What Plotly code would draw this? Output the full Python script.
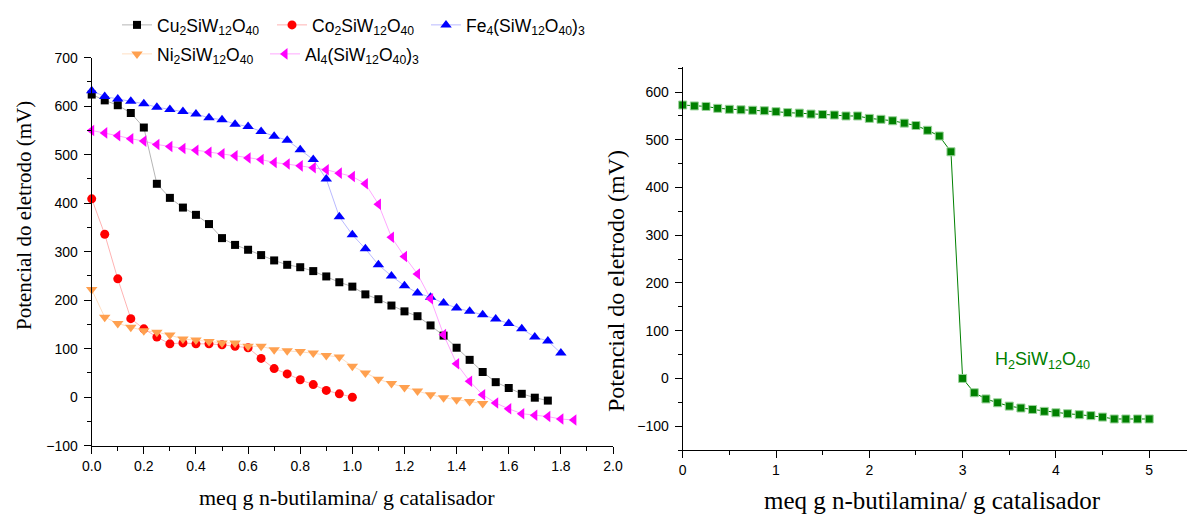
import plotly.graph_objects as go

W, H = 1187, 514

# ---------------- data (left panel) ----------------
x_cu = [round(i * 0.05, 2) for i in range(36)]
y_cu = [624, 612, 602, 586, 556, 440, 411, 391, 376, 357, 328, 314, 304, 293, 282, 273,
        268, 260, 249, 237, 228, 212, 202, 189, 177, 167, 148, 127, 102, 77, 52, 31,
        19, 7, -1, -7]

x_co = [round(i * 0.05, 2) for i in range(21)]
y_co = [409, 336, 244, 162, 141, 124, 110, 112, 110, 110, 108, 105, 102, 80, 59, 48,
        36, 26, 14, 7, 0]

x_fe = [round(i * 0.05, 2) for i in range(37)]
y_fe = [632, 620, 615, 610, 605, 598, 593, 589, 584, 576, 572, 563, 558, 548, 538, 530,
        510, 490, 450, 372, 335, 306, 273, 250, 230, 215, 206, 194, 184, 177, 170, 161,
        152, 141, 124, 116, 91]

x_ni = [round(i * 0.05, 2) for i in range(31)]
y_ni = [222, 165, 152, 144, 137, 134, 128, 120, 118, 115, 112, 112, 105, 105, 98, 96,
        94, 91, 86, 83, 64, 50, 37, 28, 20, 13, 5, -1, -5, -9, -13]

x_al = [round(i * 0.05, 2) for i in range(38)]
y_al = [550, 545, 539, 533, 528, 521, 517, 513, 509, 505, 502, 498, 493, 490, 484, 481,
        477, 473, 469, 462, 455, 440, 398, 330, 290, 254, 203, 129, 69, 33, 5, -12,
        -24, -34, -37, -40, -45, -47]

# ---------------- data (right panel) ----------------
x_h2 = [i * 0.125 for i in range(41)]
y_h2 = [573, 571, 570, 566, 564, 563, 562, 561, 559, 557, 556, 554, 553, 552, 550, 550,
        545, 543, 540, 535, 530, 520, 508, 475,
        0, -30, -43, -51, -58, -62, -65, -69, -72, -74, -76, -78, -81, -85, -85, -85, -85]

names = {
    "cu": "Cu<sub>2</sub>SiW<sub>12</sub>O<sub>40</sub>",
    "co": "Co<sub>2</sub>SiW<sub>12</sub>O<sub>40</sub>",
    "fe": "Fe<sub>4</sub>(SiW<sub>12</sub>O<sub>40</sub>)<sub>3</sub>",
    "ni": "Ni<sub>2</sub>SiW<sub>12</sub>O<sub>40</sub>",
    "al": "Al<sub>4</sub>(SiW<sub>12</sub>O<sub>40</sub>)<sub>3</sub>",
}
h2_label = "H<sub>2</sub>SiW<sub>12</sub>O<sub>40</sub>"
xtitle = "meq g n-butilamina/ g catalisador"
ytitle = "Potencial do eletrodo (mV)"

SANS = "Liberation Sans, Arial, sans-serif"
SERIF = "Liberation Serif, Times New Roman, serif"

fig = go.Figure()

def add(x, y, name, color, linecolor, symbol, size, legend):
    fig.add_trace(go.Scatter(
        x=x, y=y, name=name, mode="lines+markers",
        line=dict(color=linecolor, width=1),
        marker=dict(symbol=symbol, size=size, color=color, line=dict(width=0)),
        xaxis="x", yaxis="y", cliponaxis=False, legend=legend))

add(x_cu, y_cu, names["cu"], "#000000", "rgba(120,120,120,0.55)", "square", 8, "legend")
add(x_co, y_co, names["co"], "#ff0000", "rgba(255,0,0,0.30)", "circle", 9, "legend2")
add(x_fe, y_fe, names["fe"], "#0000ff", "rgba(0,0,255,0.28)", "triangle-up", 10, "legend3")
add(x_ni, y_ni, names["ni"], "#ffa04f", "rgba(255,160,80,0.35)", "triangle-down", 10, "legend4")
add(x_al, y_al, names["al"], "#ff00ff", "rgba(255,0,255,0.35)", "triangle-left", 10, "legend5")

fig.add_trace(go.Scatter(
    x=x_h2, y=y_h2, name=h2_label, mode="lines+markers", showlegend=False,
    line=dict(color="#008000", width=1),
    marker=dict(symbol="square", size=8, color="#008000", line=dict(width=1, color="#9bd39b")),
    xaxis="x2", yaxis="y2", cliponaxis=False))

def px_x(p):
    return p / W

def px_y(p):
    return (H - p) / H

axis_common = dict(showline=True, linecolor="black", linewidth=1, ticks="outside",
                   tickcolor="black", ticklen=7, showgrid=False, zeroline=False,
                   automargin=False, tickfont=dict(family=SANS, size=14, color="black"))

fig.update_layout(
    width=W, height=H, margin=dict(l=0, r=0, t=0, b=0),
    paper_bgcolor="white", plot_bgcolor="white",
    xaxis=dict(domain=[px_x(91.7), px_x(613)], range=[0, 2.0], dtick=0.2, tick0=0,
               tickformat=".1f", anchor="y",
               minor=dict(ticks="outside", ticklen=4, dtick=0.1, tickcolor="black"),
               **axis_common),
    yaxis=dict(domain=[px_y(445.7), px_y(57.7)], range=[-100, 700], dtick=100, anchor="x",
               ticklabelstandoff=3,
               minor=dict(ticks="outside", ticklen=4, dtick=50, tickcolor="black"),
               **axis_common),
    xaxis2=dict(domain=[px_x(682.7), 1.0], range=[0, 5.405], dtick=1, anchor="y2",
                minor=dict(ticks="outside", ticklen=4, dtick=0.5, tickcolor="black"),
                **axis_common),
    yaxis2=dict(domain=[px_y(450), px_y(67.3)], range=[-150, 652], dtick=100, anchor="x2",
                ticklabelstandoff=3,
                minor=dict(ticks="outside", ticklen=4, dtick=50, tickcolor="black"),
                **axis_common),
)

leg_font = dict(family=SANS, size=17.5, color="black")
def legend_at(mx, my):
    return dict(x=px_x(mx - 17), y=px_y(my), xanchor="left", yanchor="middle",
                orientation="h", font=leg_font, bgcolor="rgba(0,0,0,0)",
                borderwidth=0, itemwidth=30)

fig.update_layout(
    legend=legend_at(134, 25),
    legend2=legend_at(289, 25),
    legend3=legend_at(443, 25),
    legend4=legend_at(134, 54),
    legend5=legend_at(282, 54),
)

ann = [
    dict(text=xtitle, x=px_x(347), y=px_y(497), font=dict(family=SERIF, size=22, color="black")),
    dict(text=ytitle, x=px_x(24), y=px_y(216), textangle=-90,
         font=dict(family=SERIF, size=21, color="black")),
    dict(text=xtitle, x=px_x(932), y=px_y(500), font=dict(family=SERIF, size=25, color="black")),
    dict(text=ytitle, x=px_x(616), y=px_y(281), textangle=-90,
         font=dict(family=SERIF, size=24, color="black")),
    dict(text=h2_label, x=px_x(1042), y=px_y(360), font=dict(family=SANS, size=18, color="#008000")),
]
for a in ann:
    a.update(xref="paper", yref="paper", showarrow=False, xanchor="center", yanchor="middle")
fig.update_layout(annotations=ann)

fig.write_html("out.html")
